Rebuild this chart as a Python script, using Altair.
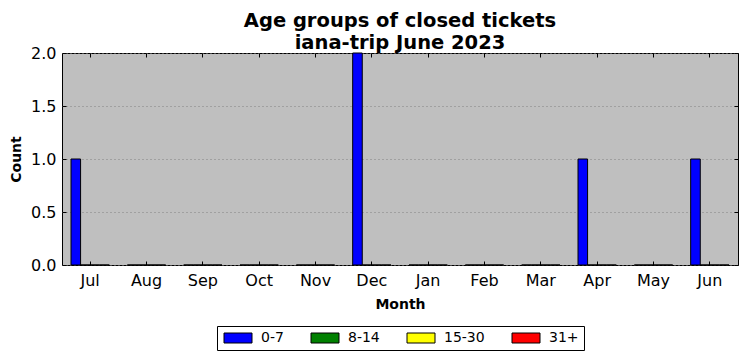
import altair as alt
import pandas as pd

months = ["Jul", "Aug", "Sep", "Oct", "Nov", "Dec", "Jan", "Feb", "Mar", "Apr", "May", "Jun"]
groups = ["0-7", "8-14", "15-30", "31+"]
colors = ["#0000ff", "#008000", "#ffff00", "#ff0000"]
counts_0_7 = [1, 0, 0, 0, 0, 2, 0, 0, 0, 1, 0, 1]
counts_8_14 = [0] * 12
counts_15_30 = [0] * 12
counts_31 = [0] * 12
y_ticks = [0, 0.5, 1.0, 1.5, 2.0]

series = {"0-7": counts_0_7, "8-14": counts_8_14, "15-30": counts_15_30, "31+": counts_31}
rows = []
for g in groups:
    for m, v in zip(months, series[g]):
        rows.append({"month": m, "group": g, "count": v})
df = pd.DataFrame(rows)

FONT = "DejaVu Sans"

xscale = alt.Scale(type="band", domain=months, paddingInner=0, paddingOuter=0)
yscale = alt.Scale(domain=[0, 2], nice=False, zero=True)

# wide legend swatch: layout size 10px, drawn 28x10 starting at the layout's left edge
swatch = "M-1,-1L4.6,-1L4.6,1L-1,1Z"

bars = alt.Chart(df).mark_bar(stroke="black", strokeWidth=1, opacity=1).encode(
    x=alt.X("month:N", sort=months, scale=xscale,
            axis=alt.Axis(title="Month", orient="bottom", labelAngle=0, ticks=False, domain=False,
                          labelPadding=7, labelFontSize=16, labelColor="black", labelFont=FONT,
                          titleFontSize=14, titleFont=FONT, titleFontWeight="bold", titleColor="black",
                          titlePadding=9, grid=False)),
    xOffset=alt.XOffset("group:N", sort=groups,
                        scale=alt.Scale(domain=groups, paddingInner=0, paddingOuter=0.941)),
    y=alt.Y("count:Q", scale=yscale,
            axis=alt.Axis(title="Count", orient="left", values=y_ticks, format=".1f", ticks=False,
                          domain=False, labelPadding=6, labelFontSize=16, labelColor="black",
                          labelFont=FONT, titleFontSize=14, titleFont=FONT, titleFontWeight="bold",
                          titleColor="black", titlePadding=7, grid=True, gridDash=[1, 3],
                          gridColor="#808080", gridWidth=1)),
    color=alt.Color("group:N", sort=groups, scale=alt.Scale(domain=groups, range=colors),
                    legend=alt.Legend(title=None, orient="none", legendX=155, legendY=273,
                                      direction="horizontal", columns=4, columnPadding=25,
                                      strokeColor="black", fillColor="white", padding=5,
                                      cornerRadius=0, labelFontSize=14, labelFont=FONT,
                                      labelColor="black", labelOffset=25,
                                      symbolType=swatch,
                                      symbolSize=100, symbolStrokeColor="black",
                                      symbolStrokeWidth=1, symbolOpacity=1)),
)

tick_axis = dict(labels=False, domain=False, title=None, grid=False, ticks=True,
                 tickSize=4, tickColor="black", tickWidth=1, offset=-4)

ticks_tr = alt.Chart(df).mark_point(opacity=0).encode(
    x=alt.X("month:N", sort=months, scale=xscale, axis=alt.Axis(orient="top", **tick_axis)),
    y=alt.Y("count:Q", scale=yscale, axis=alt.Axis(orient="right", values=y_ticks, **tick_axis)),
)
ticks_bl = alt.Chart(df).mark_point(opacity=0).encode(
    x=alt.X("month:N", sort=months, scale=xscale, axis=alt.Axis(orient="bottom", **tick_axis)),
    y=alt.Y("count:Q", scale=yscale, axis=alt.Axis(orient="left", values=y_ticks, **tick_axis)),
)

chart = alt.layer(bars, ticks_tr, ticks_bl).resolve_axis(x="independent", y="independent").properties(
    width=676, height=212,
    autosize=alt.AutoSizeParams(type="none"),
    padding={"left": 54, "top": 45, "right": 1, "bottom": 88},
    title=alt.TitleParams(text=["Age groups of closed tickets", "iana-trip June 2023"],
                          fontSize=19.5, font=FONT, fontWeight="bold", color="black",
                          anchor="middle", offset=-8, lineHeight=22),
    background="white",
).configure_view(fill="#bfbfbf", stroke="black", strokeWidth=1)

chart.save("out.html", embed_options={"renderer": "svg", "actions": False})
